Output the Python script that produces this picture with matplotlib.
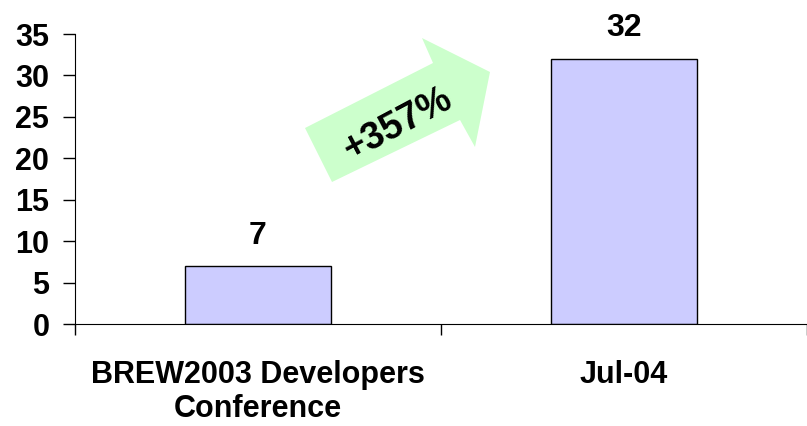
import matplotlib.pyplot as plt
from matplotlib.patches import Polygon
from matplotlib.transforms import IdentityTransform

# chart data
categories = ["BREW2003 Developers\nConference", "Jul-04"]
values = [7, 32]
growth_label = "+357%"

plt.rcParams['font.family'] = ['Liberation Sans', 'DejaVu Sans']
plt.rcParams['font.weight'] = 'bold'

fig = plt.figure(figsize=(8.07, 4.26), dpi=100)
ax = fig.add_axes([75 / 807, 1 - 324 / 426, 732 / 807, 290 / 426])

x = list(range(len(categories)))
ax.bar(x, values, width=0.4, color="#ccccff", edgecolor="black", linewidth=1)

ax.set_xlim(-0.5, len(categories) - 0.5)
ax.set_ylim(0, 35)
ax.set_yticks(range(0, 36, 5))
ax.tick_params(axis='y', labelsize=22, length=8.5, width=1, direction='out', pad=10)

# category ticks sit between the bars
ax.set_xticks([i - 0.5 for i in range(len(categories) + 1)])
ax.set_xticklabels([])
ax.tick_params(axis='x', length=8, width=1, direction='out')
for i, cat in enumerate(categories):
    ax.text(i, -4.3, cat, ha='center', va='top', fontsize=22,
            fontweight='bold', linespacing=1.17)

for i, v in enumerate(values):
    ax.text(i, v + 2.7, str(v), ha='center', va='baseline', fontsize=23,
            fontweight='bold')

ax.spines['top'].set_visible(False)
ax.spines['right'].set_visible(False)

# growth arrow, drawn in figure pixels (image y flipped)
H = 426
pts = [(305, 128), (332, 182), (460, 120), (475, 147), (490, 72), (422, 38), (433, 63)]
arrow = Polygon([(px, H - py) for px, py in pts], closed=True,
                facecolor="#ccffcc", edgecolor="none", transform=IdentityTransform())
fig.patches.append(arrow)
fig.text(398 / 807, 1 - 125 / 426, growth_label, rotation=28, ha='center', va='center',
         fontsize=27, fontweight='bold')

fig.savefig("out.png", dpi=100)
